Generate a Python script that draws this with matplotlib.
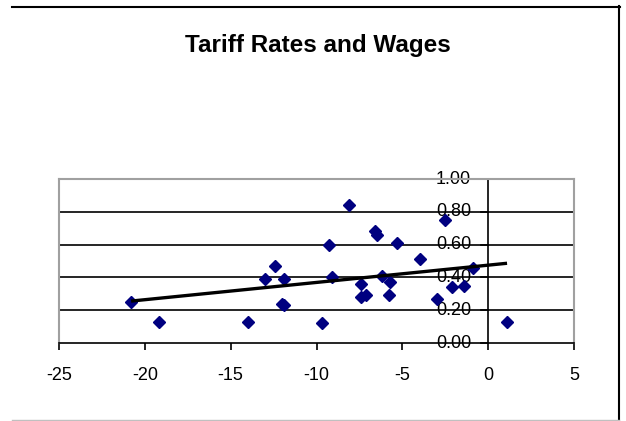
import numpy as np
import matplotlib
matplotlib.use("Agg")
import matplotlib.pyplot as plt
from matplotlib.lines import Line2D

plt.rcParams["font.family"] = ["Liberation Sans", "DejaVu Sans"]

# tariff rate change (x) vs. wage measure (y)
tariff = [-20.8, -19.2, -14.0, -13.0, -12.4, -11.9, -12.0, -11.9, -9.7, -9.3,
          -9.1, -8.1, -7.4, -7.4, -7.1, -6.6, -6.5, -6.2, -5.7, -5.8,
          -5.3, -4.0, -3.0, -2.5, -2.1, -1.4, -0.9, 1.1]
wages = [0.25, 0.13, 0.13, 0.39, 0.47, 0.39, 0.24, 0.23, 0.12, 0.60,
         0.40, 0.84, 0.36, 0.28, 0.29, 0.68, 0.66, 0.41, 0.37, 0.29,
         0.61, 0.51, 0.27, 0.75, 0.34, 0.35, 0.46, 0.13]

x_ticks = [-25, -20, -15, -10, -5, 0, 5]
y_ticks = [0.0, 0.2, 0.4, 0.6, 0.8, 1.0]

fig = plt.figure(figsize=(6.26, 4.21), dpi=100)
ax = fig.add_axes([59 / 626, 1 - 343 / 421, 515 / 626, 164 / 421])

ax.set_xlim(-25, 5)
ax.set_ylim(0, 1)

# gridlines (the top one is the gray plot-area frame)
for yv in y_ticks[1:-1]:
    ax.axhline(yv, color="black", lw=1.2, zorder=1)

# plot-area frame in gray, x axis in black
for side in ("left", "right", "top"):
    ax.spines[side].set_color("#a0a0a0")
    ax.spines[side].set_linewidth(1.5)
ax.spines["bottom"].set_color("black")
ax.spines["bottom"].set_linewidth(1.2)

# y axis crosses at x = 0
ax.axvline(0, color="black", lw=1.2, zorder=1)
ax.set_yticks([])
for yv in y_ticks:
    ax.plot([-0.41, 0], [yv, yv], color="black", lw=1.2, clip_on=False,
            zorder=1)
    ax.text(-0.99, yv, f"{yv:.2f}", ha="right", va="center", fontsize=13,
            zorder=0.5)

ax.set_xticks(x_ticks)
ax.set_xticklabels([str(v) for v in x_ticks], fontsize=13)
ax.tick_params(axis="x", direction="out", length=5, width=1.2, pad=12,
               color="black")

# scatter points
ax.plot(tariff, wages, linestyle="none", marker="D", markersize=6.5,
        color="#000080", zorder=3)

# linear trendline
slope, intercept = np.polyfit(tariff, wages, 1)
xl = np.array([min(tariff), max(tariff)])
ax.plot(xl, slope * xl + intercept, color="black", lw=2.4, zorder=4,
        solid_capstyle="butt")

fig.text(318 / 626, 1 - 52 / 421, "Tariff Rates and Wages", ha="center",
         va="baseline", fontsize=17.5, fontweight="bold")

# chart-area border
fig.add_artist(Line2D([12 / 626, 620 / 626], [1 - 6.5 / 421] * 2,
                      color="black", lw=1.5))
fig.add_artist(Line2D([619 / 626] * 2, [0, 1 - 6 / 421], color="black", lw=1.5))
fig.add_artist(Line2D([12 / 626, 619 / 626], [1 - 420 / 421] * 2,
                      color="#c0c0c0", lw=1.0))

fig.savefig("out.png", dpi=100)
